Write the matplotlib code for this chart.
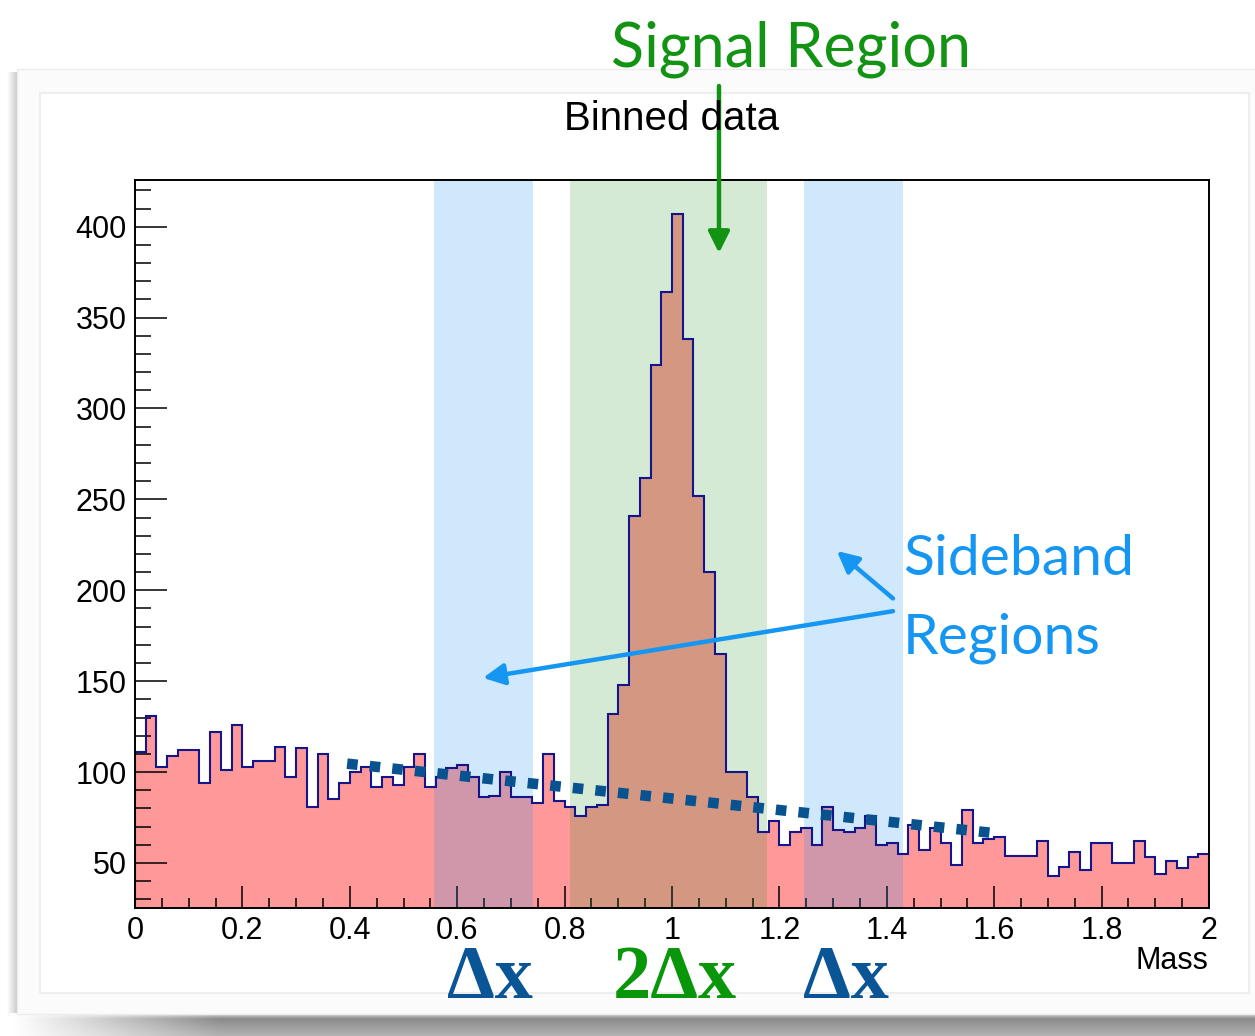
import numpy as np
import matplotlib
matplotlib.use("Agg")
import matplotlib.pyplot as plt
from matplotlib.patches import Rectangle
from matplotlib.ticker import MultipleLocator

plt.rcParams['font.family'] = ['Liberation Sans', 'DejaVu Sans']

# ---- data -----------------------------------------------------------------
bin_edges_range = (0.0, 2.0)
n_bins = 100
counts = [111, 131, 103, 109, 112, 112, 94, 122, 101, 126,
          103, 106, 106, 114, 97, 113, 81, 110, 85, 94,
          100, 103, 92, 97, 93, 103, 110, 92, 97, 102,
          104, 97, 86, 87, 100, 86, 86, 83, 110, 84,
          81, 76, 81, 82, 132, 148, 241, 262, 324, 364,
          407, 338, 252, 210, 165, 100, 100, 86, 67, 73,
          60, 67, 69, 60, 81, 68, 67, 69, 76, 60,
          61, 55, 71, 57, 69, 61, 49, 79, 61, 63,
          64, 54, 54, 54, 62, 43, 48, 56, 46, 61,
          61, 50, 50, 62, 53, 44, 51, 47, 53, 55]

sideband_low = (0.557, 0.742)
signal_region = (0.810, 1.177)
sideband_high = (1.246, 1.431)

bkg_line_x = [0.395, 1.600]
bkg_line_y = [104.6, 66.4]

x_ticks = [0, 0.2, 0.4, 0.6, 0.8, 1, 1.2, 1.4, 1.6, 1.8, 2]
x_ticklabels = ["0", "0.2", "0.4", "0.6", "0.8", "1", "1.2", "1.4", "1.6", "1.8", "2"]
y_ticks = [50, 100, 150, 200, 250, 300, 350, 400]

edges = np.linspace(bin_edges_range[0], bin_edges_range[1], n_bins + 1)

W, H = 1255, 1036
fig = plt.figure(figsize=(W / 100, H / 100), dpi=100)


def fpos(x, y):
    """pixel position -> figure fraction"""
    return x / W, 1 - y / H


# ---- canvas background with drop shadow -----------------------------------
bg = fig.add_axes([0, 0, 1, 1], zorder=0)
bg.set_xlim(0, W)
bg.set_ylim(H, 0)
bg.axis('off')

# left shadow
grad_l = np.linspace(1.0, 0.78, 40).reshape(1, -1)
bg.imshow(grad_l, cmap='gray', vmin=0, vmax=1, extent=(7, 18, 1016, 72),
          aspect='auto', interpolation='bilinear')
# bottom shadow
vals = np.concatenate([np.linspace(0.86, 0.55, 8), np.linspace(0.55, 0.70, 22)])
grad_b = vals.reshape(-1, 1) * np.ones((1, 200))
fade = np.clip(np.linspace(0, 6, 200), 0, 1)
grad_b = 1 - (1 - grad_b) * fade
bg.imshow(grad_b, cmap='gray', vmin=0, vmax=1, extent=(10, W, H, 1013),
          aspect='auto', interpolation='bilinear')

bg.add_patch(Rectangle((17, 69), W, 945, facecolor='#fbfbfb',
                       edgecolor='#ececec', lw=1.0))
bg.add_patch(Rectangle((40, 93), 1209, 900, facecolor='white',
                       edgecolor='#eeeeee', lw=1.5))

# ---- histogram ------------------------------------------------------------
ax = fig.add_axes([135 / W, 1 - 908 / H, 1074 / W, 728 / H], zorder=1)
ax.set_facecolor('none')

ax.stairs(counts, edges, fill=True, color='#ff9999', baseline=0, zorder=1)
for lo, hi in (sideband_low, sideband_high):
    ax.axvspan(lo, hi, color='#148cf0', alpha=0.2, lw=0, zorder=2)
ax.axvspan(*signal_region, color='#289628', alpha=0.2, lw=0, zorder=2)
ax.stairs(counts, edges, fill=False, color='#14148c', lw=1.5, baseline=0,
          zorder=3)

ax.plot(bkg_line_x, bkg_line_y, color='#08528f', lw=7.6,
        linestyle=(0, (1.0, 1.15)), solid_capstyle='butt',
        dash_capstyle='butt', zorder=4)

ax.set_xlim(0, 2)
ax.set_ylim(25.2, 425.7)

ax.set_xticks(x_ticks)
ax.set_xticklabels(x_ticklabels)
ax.xaxis.set_minor_locator(MultipleLocator(0.05))
ax.set_yticks(y_ticks)
ax.yaxis.set_minor_locator(MultipleLocator(10))

ax.tick_params(axis='x', which='major', direction='in', length=16, width=1.1,
               labelsize=22, pad=6, top=False)
ax.tick_params(axis='x', which='minor', direction='in', length=7.5, width=1.1,
               top=False)
ax.tick_params(axis='y', which='major', direction='in', length=23, width=1.1,
               labelsize=22, pad=6, right=False)
ax.tick_params(axis='y', which='minor', direction='in', length=11.5, width=1.1,
               right=False)
for sp in ax.spines.values():
    sp.set_linewidth(1.4)
    sp.set_zorder(5)

# ---- titles / axis label ---------------------------------------------------
fig.text(*fpos(672, 119), "Binned data", fontsize=29, ha='center', va='center')
fig.text(*fpos(1208, 961), "Mass", fontsize=22, ha='right', va='center')

# ---- interval widths under the axis ---------------------------------------
dx_blue = '#0a5596'
dx_green = '#0a960a'
for xc, txt, col in ((490, "Δx", dx_blue), (675, "2Δx", dx_green),
                     (846, "Δx", dx_blue)):
    fig.text(*fpos(xc, 998), txt, fontsize=55, fontweight='bold',
             family=['Liberation Serif', 'DejaVu Serif'], color=col,
             ha='center', va='baseline')

# ---- hand-drawn style annotations -----------------------------------------
hand = ['Lato', 'DejaVu Sans']
green = '#139313'
sky = '#1596f2'

fig.text(*fpos(791, 66), "Signal Region", fontsize=44, color=green,
         family=hand, ha='center', va='baseline')
ax.annotate("", xy=(1.0875, 385.5), xycoords='data',
            xytext=fpos(719, 86), textcoords='figure fraction',
            arrowprops=dict(arrowstyle='-|>', color=green, lw=3.2,
                            mutation_scale=32, shrinkA=0, shrinkB=0),
            annotation_clip=False, zorder=6)

fig.text(*fpos(903, 575), "Sideband", fontsize=41, color=sky, family=hand,
         ha='left', va='baseline')
fig.text(*fpos(903, 653), "Regions", fontsize=41, color=sky, family=hand,
         ha='left', va='baseline')
ax.annotate("", xy=(0.648, 151.8), xycoords='data',
            xytext=(1.4115, 188.5), textcoords='data',
            arrowprops=dict(arrowstyle='-|>', color=sky, lw=3.2,
                            mutation_scale=32, shrinkA=0, shrinkB=0),
            annotation_clip=False, zorder=6)
ax.annotate("", xy=(1.307, 221.6), xycoords='data',
            xytext=(1.4115, 195.5), textcoords='data',
            arrowprops=dict(arrowstyle='-|>', color=sky, lw=3.2,
                            mutation_scale=32, shrinkA=0, shrinkB=0),
            annotation_clip=False, zorder=6)

fig.savefig("out.png", dpi=100)
